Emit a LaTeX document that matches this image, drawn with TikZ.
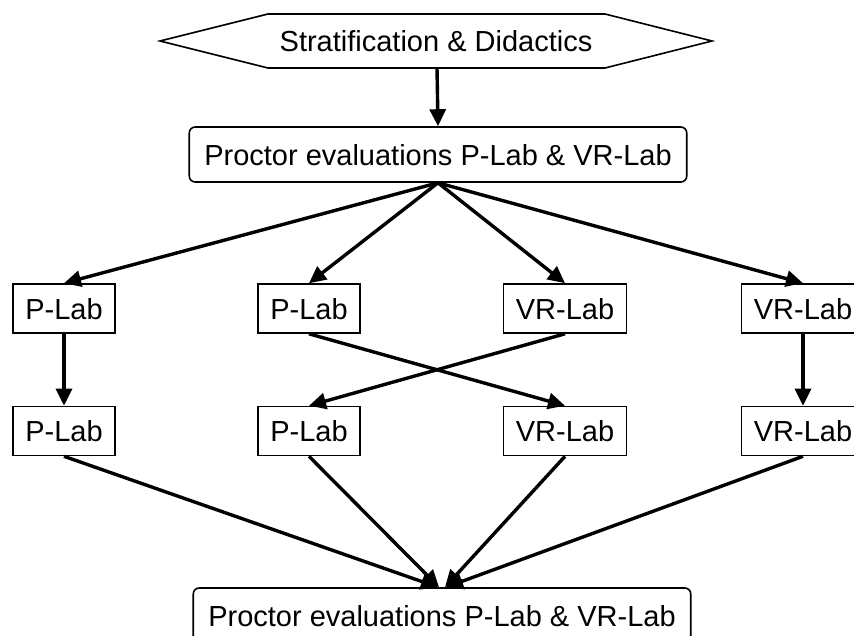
\documentclass[tikz,border=0pt]{standalone}
\usepackage{fontspec}
\setmainfont{Liberation Sans}
\usetikzlibrary{arrows.meta}
\begin{document}
\begin{tikzpicture}[x=1pt,y=-1pt,
  every node/.style={font=\fontsize{29}{34}\selectfont, text height=21pt, text depth=0pt},
  labbox/.style={draw, line width=1.6pt, inner xsep=12.5pt, minimum height=49pt},
  widebox/.style={draw, line width=1.6pt, rounded corners=6pt, inner xsep=15pt, minimum height=55pt},
  arr/.style={line width=3.4pt, -{Triangle[length=17pt,width=16pt]}}
]
\useasboundingbox (0,0) rectangle (854,635);
% hexagon
\node (hex) at (436,41) {Stratification \& Didactics};
\draw[line width=1.6pt] (160,41) -- (268,14) -- (605,14) -- (712,41) -- (605,68) -- (268,68) -- cycle;
\coordinate (hexs) at (437,68);
% evaluation boxes
\node[widebox] (mid) at (438,154.5) {Proctor evaluations P-Lab \& VR-Lab};
\node[widebox] (bot) at (442,615.5) {Proctor evaluations P-Lab \& VR-Lab};
% row 1
\node[labbox] (a1) at (64,308.5) {P-Lab};
\node[labbox] (b1) at (309,308.5) {P-Lab};
\node[labbox] (c1) at (565,308.5) {VR-Lab};
\node[labbox] (d1) at (803,308.5) {VR-Lab};
% row 2
\node[labbox] (a2) at (64,431) {P-Lab};
\node[labbox] (b2) at (309,431) {P-Lab};
\node[labbox] (c2) at (565,431) {VR-Lab};
\node[labbox] (d2) at (803,431) {VR-Lab};
% arrows
\draw[arr] (hexs) -- (mid.north);
\draw[arr] (mid.south) -- (a1.north);
\draw[arr] (mid.south) -- (b1.north);
\draw[arr] (mid.south) -- (c1.north);
\draw[arr] (mid.south) -- (d1.north);
\draw[arr] (a1.south) -- (a2.north);
\draw[arr] (d1.south) -- (d2.north);
\draw[arr] (b1.south) -- (c2.north);
\draw[arr] (c1.south) -- (b2.north);
\draw[arr] (a2.south) -- ([xshift=-4pt]bot.north);
\draw[arr] (b2.south) -- ([xshift=-3pt]bot.north);
\draw[arr] (c2.south) -- ([xshift=3pt]bot.north);
\draw[arr] (d2.south) -- ([xshift=4pt]bot.north);
\end{tikzpicture}
\end{document}
